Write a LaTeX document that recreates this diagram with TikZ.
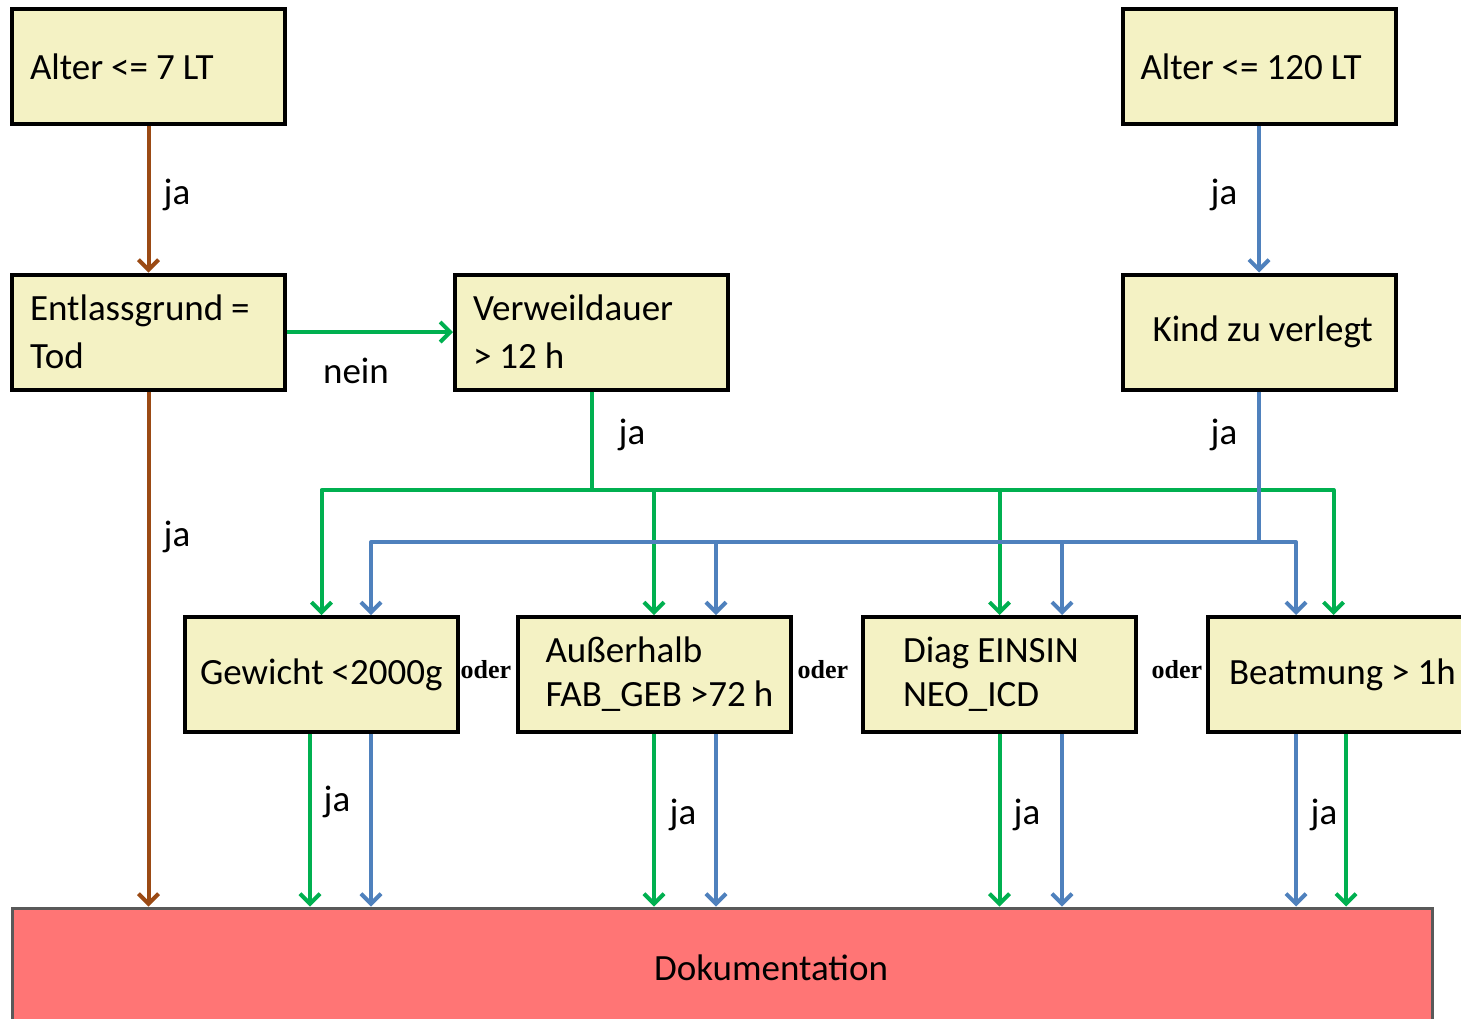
\documentclass[tikz,border=0pt]{standalone}
\usepackage{fontspec}
\setmainfont{Carlito}
\newfontfamily\oderfont{Liberation Serif}
\usetikzlibrary{arrows.meta}
\newcommand\ws{\kern4pt\relax}
\definecolor{boxfill}{HTML}{F4F2C4}
\definecolor{docfill}{HTML}{FF7575}
\definecolor{cgreen}{HTML}{00B050}
\definecolor{cblue}{HTML}{4F81BD}
\definecolor{cbrown}{HTML}{9B4A14}
\tikzset{
  box/.style={draw=black, line width=2pt, fill=boxfill, minimum width=136.5pt, minimum height=57.5pt,
    inner xsep=9pt, inner ysep=0pt, text width=118.5pt, align=left, font=\fontsize{18.5}{24}\selectfont,
    execute at begin node={\hyphenpenalty=10000\exhyphenpenalty=10000}},
  docbox/.style={draw=black!65, line width=1.5pt, fill=docfill, minimum width=710pt, minimum height=60pt,
    font=\fontsize{18.5}{24}\selectfont},
  conn/.style={line width=2pt, line join=round},
  tip/.style={-{Straight Barb[length=5pt,width=10pt,line width=2pt]}},
  gline/.style={conn, cgreen},
  bline/.style={conn, cblue},
  brline/.style={conn, cbrown},
  lbl/.style={font=\fontsize{18.5}{24}\selectfont, inner sep=0pt},
  oder/.style={font=\oderfont\bfseries\fontsize{13}{15}\selectfont, inner sep=0pt},
}
\begin{document}
\begin{tikzpicture}[x=0.5pt,y=-0.5pt]
\clip (0,0) rectangle (1461,1018);
\fill[white] (0,0) rectangle (1461,1018);

% boxes
\node[box] (a1) at (148.5,66.5) {Alter\ws<=\ws7\ws LT};
\node[box] (a2) at (1259,66.5) {Alter\ws<=\ws120\ws LT};
\node[box] (ent) at (148.5,332) {Entlassgrund\ws=\\Tod};
\node[box] (ver) at (591.5,332) {Verweildauer\\>\ws12\ws h};
\node[box, inner xsep=15pt, text width=106.5pt] (kind) at (1259,332) {Kind\ws zu\ws verlegt};
\node[box, inner xsep=7.5pt, text width=121.5pt, font=\fontsize{18.5}{22}\selectfont] (gew) at (321.5,674.5) {Gewicht\ws<2000g};
\node[box, inner xsep=14pt, text width=108.5pt, font=\fontsize{18.5}{22}\selectfont] (aus) at (654,674.5) {Außerhalb\\FAB\_GEB\ws>72\ws h};
\node[box, inner xsep=20pt, text width=96.5pt, font=\fontsize{18.5}{22}\selectfont] (diag) at (999.5,674.5) {Diag\ws EINSIN\\NEO\_ICD};
\node[box, inner xsep=10.5pt, text width=115.5pt] (beat) at (1344.5,674.5) {Beatmung\ws>\ws1h};
\node[docbox] (doc) at (722,968) {\hspace*{49pt}Dokumentation};

% brown
\draw[brline, tip] (a1.south) -- (ent.north);
\draw[brline, tip] (ent.south) -- (ent.south |- doc.north);

% green from Entlassgrund to Verweildauer
\draw[gline, tip] (ent.east) -- (ver.west);

% green bus
\coordinate (gbus) at (593,490);
\draw[gline] (ver.south) -- (ver.south |- gbus);
\draw[gline, tip] (ver.south |- gbus) -| (gew.north);
\draw[gline, tip] (ver.south |- gbus) -| ([xshift=-5.5pt]beat.north);
\draw[gline, tip] (aus.north |- gbus) -- (aus.north);
\draw[gline, tip] (diag.north |- gbus) -- (diag.north);

% blue
\draw[bline, tip] (a2.south) -- (kind.north);
\coordinate (bbus) at (1259,542);
\draw[bline] (kind.south) -- (kind.south |- bbus);
\draw[bline, tip] (kind.south |- bbus) -| ([xshift=24.75pt]gew.north);
\draw[bline, tip] (kind.south |- bbus) -| ([xshift=-24.25pt]beat.north);
\draw[bline, tip] ([xshift=31pt]aus.north |- bbus) -- ([xshift=31pt]aus.north);
\draw[bline, tip] ([xshift=31.25pt]diag.north |- bbus) -- ([xshift=31.25pt]diag.north);

% bottom connectors
\draw[gline, tip] ([xshift=-5.75pt]gew.south) -- ([xshift=-5.75pt]gew.south |- doc.north);
\draw[bline, tip] ([xshift=24.75pt]gew.south) -- ([xshift=24.75pt]gew.south |- doc.north);
\draw[gline, tip] (aus.south) -- (aus.south |- doc.north);
\draw[bline, tip] ([xshift=31pt]aus.south) -- ([xshift=31pt]aus.south |- doc.north);
\draw[gline, tip] (diag.south) -- (diag.south |- doc.north);
\draw[bline, tip] ([xshift=31.25pt]diag.south) -- ([xshift=31.25pt]diag.south |- doc.north);
\draw[bline, tip] ([xshift=-24.25pt]beat.south) -- ([xshift=-24.25pt]beat.south |- doc.north);
\draw[gline, tip] ([xshift=0.75pt]beat.south) -- ([xshift=0.75pt]beat.south |- doc.north);

% labels
\node[lbl] (l1) at (177,195) {ja};
\node[lbl] (l2) at (177,537) {ja};
\node[lbl] (l3) at (356,371) {nein};
\node[lbl] (l4) at (632,435) {ja};
\node[lbl] (l5) at (1224,195) {ja};
\node[lbl] (l6) at (1224,435) {ja};
\node[lbl] (l7) at (337,802) {ja};
\node[lbl] (l8) at (683,815) {ja};
\node[lbl] (l9) at (1027,815) {ja};
\node[lbl] (l10) at (1324,815) {ja};
\node[oder] (o1) at (486,670) {oder};
\node[oder] (o2) at (823,670) {oder};
\node[oder] (o3) at (1177,670) {oder};
\end{tikzpicture}
\end{document}
